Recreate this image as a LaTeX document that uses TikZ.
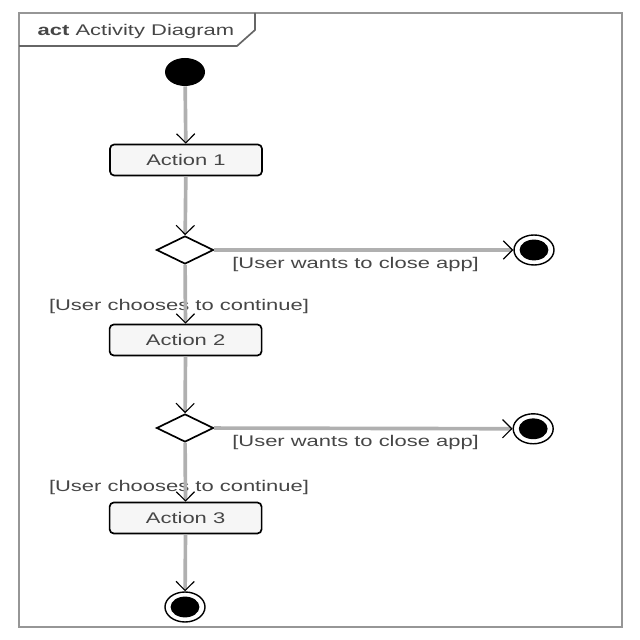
\documentclass[tikz,border=0pt]{standalone}
\usepackage{fontspec}
\setmainfont{Liberation Sans}
\usepackage{tikz}
\usetikzlibrary{arrows.meta,shapes.geometric}
\definecolor{frameGray}{RGB}{150,150,150}
\definecolor{flowGray}{RGB}{176,176,176}
\definecolor{actionFill}{RGB}{246,246,246}
\definecolor{textGray}{RGB}{70,70,70}
\newcommand{\widetext}[1]{\scalebox{1.42}[1]{#1}}
\tikzset{
  flow/.style={draw=flowGray, line width=2.6pt, -{Straight Barb[black, length=6.5pt, width=13pt, line width=0.8pt]}},
  action/.style={draw=black, line width=1.2pt, rounded corners=3pt, fill=actionFill, text=textGray, minimum width=3.8cm, minimum height=0.775cm, font=\fontsize{11}{13}\selectfont},
  decision/.style={diamond, draw=black, line width=1.2pt, fill=white, minimum width=1.425cm, minimum height=0.7cm, inner sep=0pt},
  initial/.style={ellipse, fill=black, minimum width=1cm, minimum height=0.7cm, inner sep=0pt},
  final/.style={ellipse, draw=black, line width=1pt, fill=white, minimum width=1cm, minimum height=0.75cm, inner sep=0pt,
    path picture={\fill[black] (path picture bounding box.center) ellipse (0.36cm and 0.26cm);}},
  guard/.style={font=\fontsize{11}{13}\selectfont, text=textGray, inner sep=1pt}
}

\begin{document}
\begin{tikzpicture}
  \useasboundingbox (0,0) rectangle (16,16);
  % 1. Frame and title tab
  \draw[frameGray, line width=1.4pt] (0.475,0.325) rectangle (15.55,15.675);
  \draw[black!60, line width=1.2pt] (0.475,14.85) -- (5.925,14.85) -- (6.375,15.25) -- (6.375,15.675);
  \node[guard, anchor=west] (title) at (0.9,15.2) {\widetext{\textbf{act} Activity Diagram}};

  % 2. Main flow
  \node[initial] (start) at (4.625,14.2) {};
  \node[action] (act1) at (4.65,12.0) {\widetext{Action 1}};
  \node[decision] (dec1) at (4.625,9.75) {};
  \node[final] (end1) at (13.35,9.75) {};
  \node[action] (act2) at (4.64,7.5) {\widetext{Action 2}};
  \node[decision] (dec2) at (4.625,5.3) {};
  \node[final] (end2) at (13.33,5.28) {};
  \node[action] (act3) at (4.64,3.05) {\widetext{Action 3}};
  \node[final] (end3) at (4.625,0.825) {};

  % 3. Guards
  \node[guard] (close1) at (8.89,9.375) {\widetext{[User wants to close app]}};
  \node[guard] (cont1) at (4.475,8.325) {\widetext{[User chooses to continue]}};
  \node[guard] (close2) at (8.89,4.925) {\widetext{[User wants to close app]}};
  \node[guard] (cont2) at (4.475,3.8) {\widetext{[User chooses to continue]}};

  % 4. Connectors
  \draw[flow] (start) -- (act1);
  \draw[flow] (act1) -- (dec1);
  \draw[flow] (dec1) -- (end1);
  \draw[flow] (dec1) -- (act2);
  \draw[flow] (act2) -- (dec2);
  \draw[flow] (dec2) -- (end2);
  \draw[flow] (dec2) -- (act3);
  \draw[flow] (act3) -- (end3);
\end{tikzpicture}
\end{document}
